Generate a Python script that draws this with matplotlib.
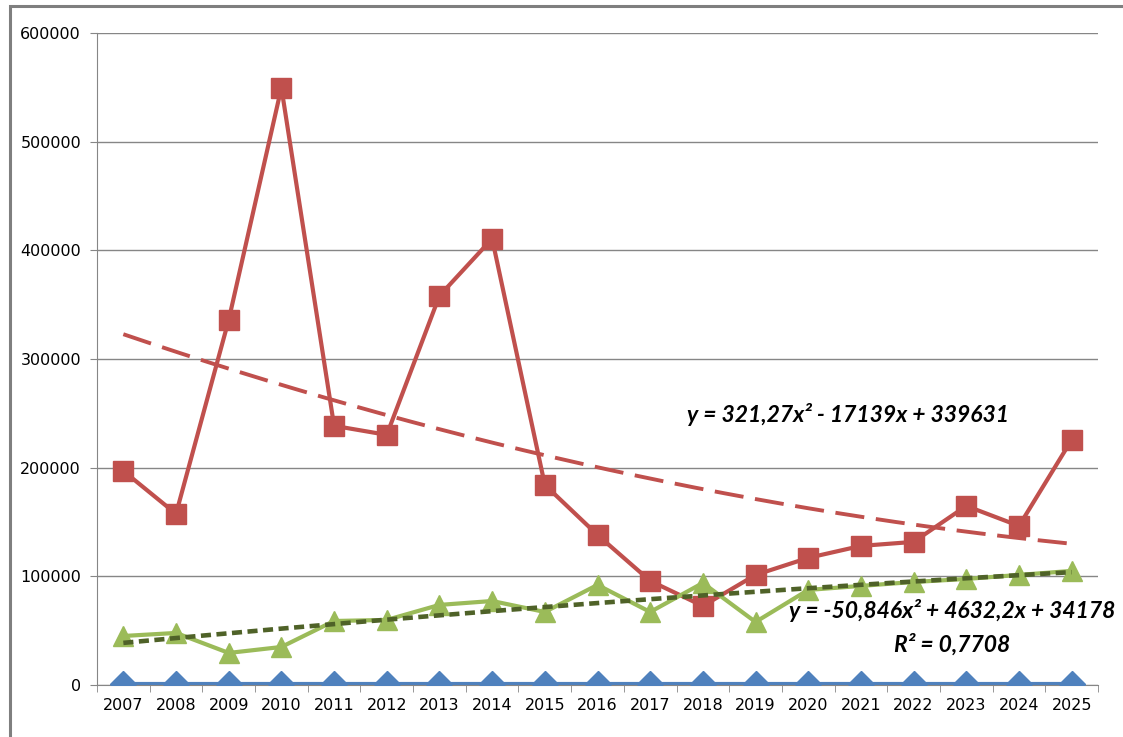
import matplotlib.pyplot as plt
import numpy as np
from matplotlib.patches import Rectangle

# Data
years = list(range(2007, 2026))
blue_vals = [800] * 19
red_vals = [197000, 157500, 336000, 549700, 238500, 230200, 358200, 410700, 184200,
            138100, 95800, 72700, 101300, 117000, 128000, 131700, 164800, 146400, 225600]
green_vals = [45100, 47900, 29500, 35000, 58900, 59900, 73700, 77300, 67200,
              92100, 67200, 93900, 58000, 87500, 91200, 94800, 97600, 101300, 105000]

# Polynomial trendline coefficients as printed on the chart (x = 1..19)
red_coef = [321.27, -17139, 339631]
green_coef = [-50.846, 4632.2, 34178]

red_eq = "y = 321,27x² - 17139x + 339631"
green_eq = "y = -50,846x² + 4632,2x + 34178"
green_r2 = "R² = 0,7708"

blue = '#4F81BD'
red = '#C0504D'
green = '#9BBB59'
dark_green = '#4F6228'

fig = plt.figure(figsize=(11.23, 7.37), dpi=100)
ax = fig.add_axes([97 / 1123, 52 / 737, 1001 / 1123, 652 / 737])

# outer chart frame (cropped on the right and bottom like the original)
fig.patches.append(Rectangle((10 / 1123, -0.05), 1.2, 1 - 6 / 737 + 0.05,
                             transform=fig.transFigure, fill=False,
                             edgecolor='#7F7F7F', linewidth=2.2))

x = np.array(years)
ax.plot(x, blue_vals, color=blue, lw=3, marker='D', ms=13, zorder=3)
ax.plot(x, red_vals, color=red, lw=3, marker='s', ms=14, zorder=3)
ax.plot(x, green_vals, color=green, lw=3, marker='^', ms=15, zorder=3)

# trendlines
t = np.linspace(1, 19, 200)
ax.plot(2006 + t, np.polyval(red_coef, t), color=red, lw=2.8,
        dashes=(7.5, 3), zorder=4)
ax.plot(2006 + t, np.polyval(green_coef, t), color=dark_green, lw=3.3,
        dashes=(2.2, 1.2), zorder=4)

ax.set_xlim(2006.5, 2025.5)
ax.set_ylim(0, 600000)
ax.set_yticks(range(0, 600001, 100000))
ax.set_xticks(years)
ax.set_xticks(np.arange(2006.5, 2026, 1), minor=True)
ax.tick_params(axis='x', which='major', length=0, pad=9)
ax.tick_params(axis='x', which='minor', length=5, color='#868686', direction='out')
ax.tick_params(axis='y', length=5, color='#868686', direction='out', pad=6.5)
for lab in ax.get_xticklabels() + ax.get_yticklabels():
    lab.set_fontfamily('DejaVu Sans')
    lab.set_fontsize(11.5)
    lab.set_color('black')

ax.grid(True, axis='y', color='#868686', lw=1)
ax.set_axisbelow(True)
for s in ['top', 'right']:
    ax.spines[s].set_visible(False)
ax.spines['left'].set_color('#868686')
ax.spines['bottom'].set_color('#868686')

txt = dict(fontfamily='Lato', fontweight='bold', fontstyle='italic', fontsize=16.5,
           ha='center', va='center', transform=fig.transFigure)
fig.text(848 / 1123, 1 - 415 / 737, red_eq, **txt)
fig.text(952 / 1123, 1 - 611 / 737, green_eq, **txt)
fig.text(952 / 1123, 1 - 645 / 737, green_r2, **txt)

fig.savefig('out.png', dpi=100)
